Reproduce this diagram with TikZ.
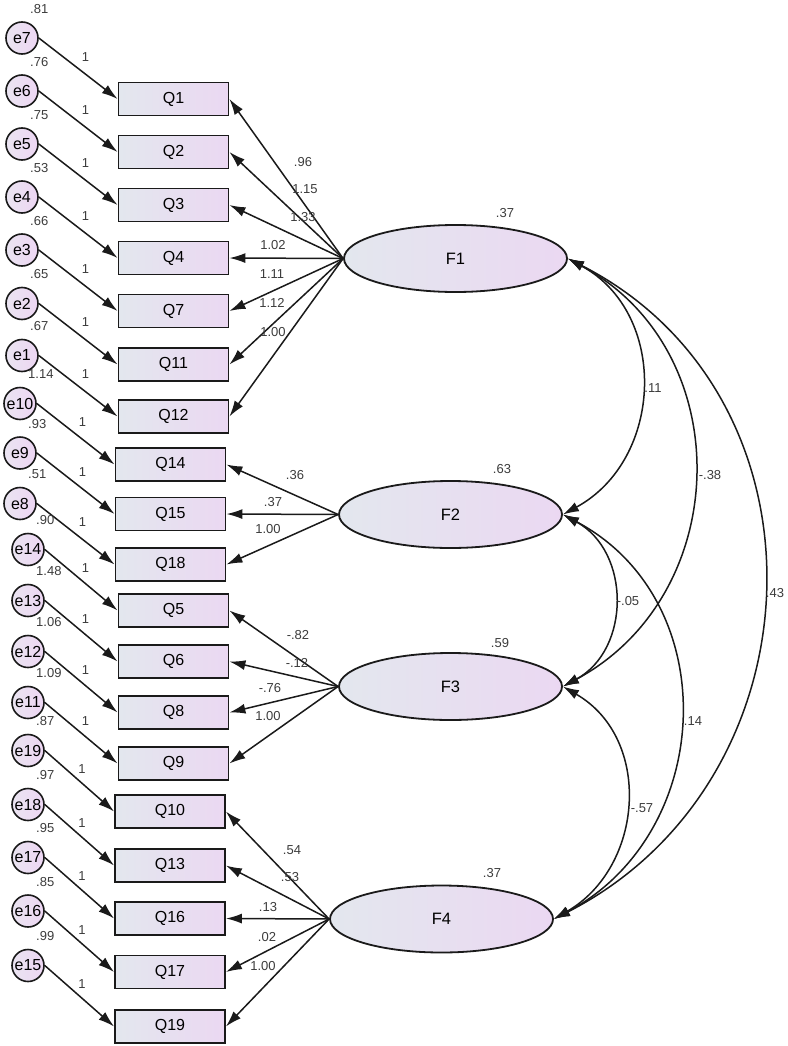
\documentclass[tikz,border=0pt]{standalone}
\usepackage{fontspec}
\setmainfont{Liberation Sans}
\usetikzlibrary{shapes.geometric,arrows.meta,calc}
\definecolor{lgrey}{HTML}{E3E7EE}
\definecolor{lpink}{HTML}{EBD8F2}
\definecolor{cpinkl}{HTML}{EAE4F1}
\definecolor{cpinkr}{HTML}{EDD6F3}
\definecolor{numc}{HTML}{3C3C3C}
\definecolor{linec}{HTML}{1A1A1A}
\tikzset{
  qbox/.style={draw=linec,line width=1.8pt,left color=lgrey,right color=lpink,
    minimum width=110pt,minimum height=33pt,inner sep=0pt,
    font=\fontsize{16}{18}\selectfont},
  ecirc/.style={circle,draw=linec,line width=1.6pt,left color=cpinkl,right color=cpinkr,
    minimum size=32pt,inner sep=0pt,font=\fontsize{16}{18}\selectfont},
  fell/.style={ellipse,draw=linec,line width=1.8pt,left color=lgrey,right color=lpink,
    minimum width=223pt,minimum height=67pt,inner sep=0pt,
    font=\fontsize{16.5}{18}\selectfont},
  num/.style={text=numc,inner sep=0pt,font=\fontsize{13}{15}\selectfont},
  arr/.style={draw=linec,line width=1.5pt,-{Latex[length=16pt,width=10pt]}},
  darr/.style={draw=linec,line width=1.5pt,{Latex[length=16pt,width=10pt]}-{Latex[length=16pt,width=10pt]}},
}
\begin{document}
\begin{tikzpicture}[x=1pt,y=-1pt]
\useasboundingbox (0,0) rectangle (787,1046);
\fill[white] (0,0) rectangle (787,1046);

% latent factors
\node[fell] (F1) at (455.5,258.5) {F1};
\node[fell] (F2) at (450.5,514.5) {F2};
\node[fell] (F3) at (450.5,686.5) {F3};
\node[fell] (F4) at (441.5,919) {F4};
\node[num] (vF1) at (505,213) {.37};
\node[num] (vF2) at (502,469) {.63};
\node[num] (vF3) at (500,643) {.59};
\node[num] (vF4) at (492,873) {.37};

% observed variables and errors
\foreach \q/\qx/\qy/\e/\ex/\v in {
  Q1/173.5/99/e7/22/.81, Q2/173.5/152/e6/22/.76, Q3/173.5/205/e5/22/.75,
  Q4/173.5/258/e4/22/.53, Q7/173.5/311/e3/22/.66, Q11/173.5/364.5/e2/22/.65,
  Q12/173.5/416.5/e1/22/.67, Q14/170.5/464.5/e10/20/1.14, Q15/170.5/514/e9/20/.93,
  Q18/170.5/564.5/e8/20/.51, Q5/173.5/610.5/e14/28/.90, Q6/173.5/661.5/e13/28/1.48,
  Q8/173.5/712.5/e12/28/1.06, Q9/173.5/763.5/e11/28/1.09, Q10/170/811.5/e19/28/.87,
  Q13/170/865.5/e18/28/.97, Q16/170/918.5/e17/28/.95, Q17/170/972/e16/28/.85,
  Q19/170/1026.5/e15/28/.99}
{
  \node[qbox] (\q) at (\qx,\qy) {\q};
  \node[ecirc] (\e) at (\ex,\qy-61) {\e};
  \node[num,anchor=west] (v\e) at (\ex+8,\qy-90) {\v};
  \draw[arr] (\e.east) -- (\q.west);
  \node[num] (one\q) at ($(\q.west)+(-32,-42)$) {1};
}

% loadings
\foreach \f/\q/\lab/\lx/\ly in {
  F1/Q1/.96/303/162, F1/Q2/1.15/305/189, F1/Q3/1.33/303/217, F1/Q4/1.02/273/245,
  F1/Q7/1.11/272/274, F1/Q11/1.12/272/303, F1/Q12/1.00/273/332,
  F2/Q14/.36/295/475, F2/Q15/.37/273/502, F2/Q18/1.00/268/529,
  F3/Q5/-.82/298/635, F3/Q6/-.12/297/663, F3/Q8/-.76/270/688, F3/Q9/1.00/268/716,
  F4/Q10/.54/292/850, F4/Q13/.53/290/877, F4/Q16/.13/268/907, F4/Q17/.02/267/937,
  F4/Q19/1.00/263/966}
{
  \draw[arr] (\f.west) -- (\q.east);
  \node[num] (L\q) at (\lx,\ly) {\lab};
}

% covariances
\draw[darr] (F1.east) .. controls +(101,55) and +(101,-55) .. (F2.east);
\draw[darr] (F1.east) .. controls +(171,92) and +(171,-92) .. (F3.east);
\draw[darr] (F1.east) .. controls +(270,138) and +(270,-138) .. (F4.east);
\draw[darr] (F2.east) .. controls +(68,37) and +(68,-37) .. (F3.east);
\draw[darr] (F2.east) .. controls +(162,86) and +(162,-86) .. (F4.east);
\draw[darr] (F3.east) .. controls +(90,52) and +(90,-52) .. (F4.east);
\node[num] (c12) at (653,388) {.11};
\node[num] (c13) at (710,475) {-.38};
\node[num] (c14) at (775,593) {.43};
\node[num] (c23) at (628,601) {-.05};
\node[num] (c24) at (693,721) {.14};
\node[num] (c34) at (642,808) {-.57};
\end{tikzpicture}
\end{document}
